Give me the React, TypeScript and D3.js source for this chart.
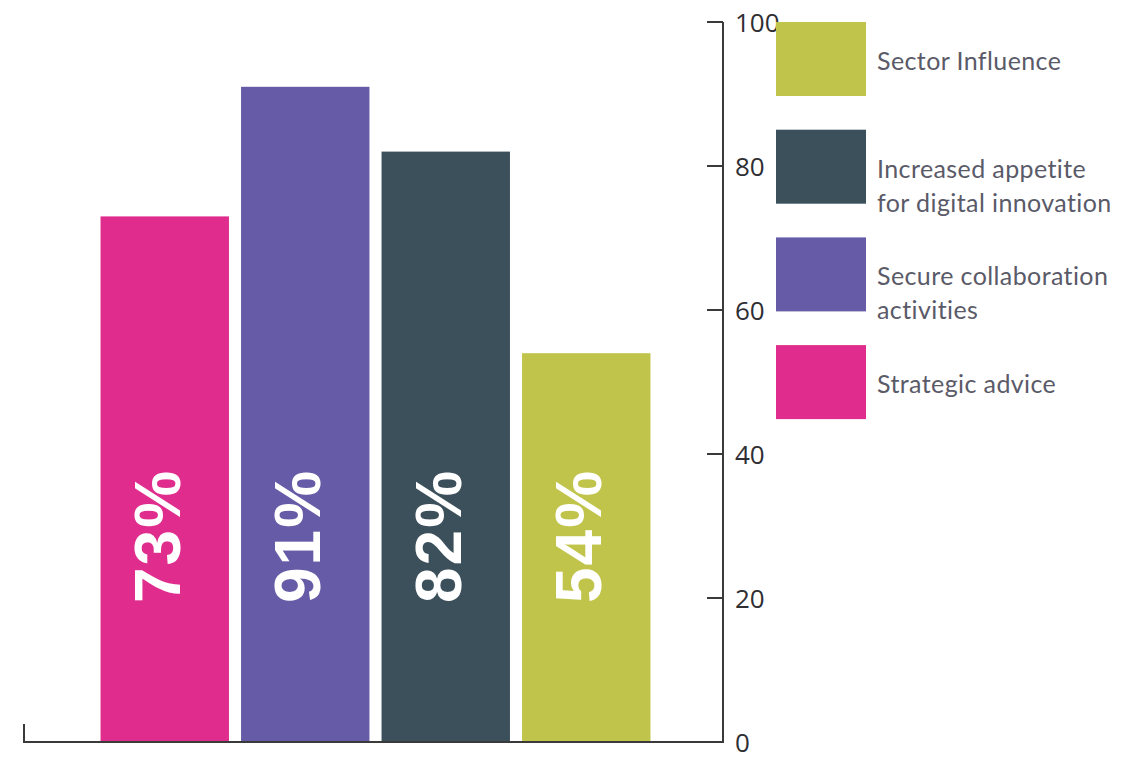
import React from "react";
import * as d3 from "d3";

const categories = ["Strategic advice", "Secure collaboration activities", "Increased appetite for digital innovation", "Sector Influence"];
const values = [73, 91, 82, 54];
const colors = ["#e02d8d", "#665ba6", "#3c505c", "#c1c44a"];
const yTicks = [0, 20, 40, 60, 80, 100];
const legendItems = ["Sector Influence", "Increased appetite for digital innovation", "Secure collaboration activities", "Strategic advice"];
const legendLines = [["Sector Influence"], ["Increased appetite", "for digital innovation"], ["Secure collaboration", "activities"], ["Strategic advice"]];
const legendColors = ["#c1c44a", "#3c505c", "#665ba6", "#e02d8d"];

export default function App() {
  const W = 1135, H = 757;
  const axisX = 723;
  const y = d3.scaleLinear().domain([0, 100]).range([742, 22]);
  const x = d3.scaleBand<string>().domain(categories).range([94.5, 656.5]).paddingInner(0.086).paddingOuter(0.043);
  const labelY = 536;
  return (
    <div style={{ position: "absolute", left: 0, top: 0 }}>
      <svg width={W} height={H} style={{ display: "block", background: "#fff" }}>
        {categories.map((c, i) => (
          <rect key={c} x={x(c)} y={y(values[i])} width={x.bandwidth()} height={y(0) - y(values[i])} fill={colors[i]} />
        ))}
        {categories.map((c, i) => {
          const cx = (x(c) as number) + x.bandwidth() / 2 + 15;
          return (
            <text key={"l" + c} transform={`translate(${cx},${labelY}) rotate(-90)`} textAnchor="middle"
              fill="#fff" fontFamily="'Liberation Sans', Arial, sans-serif" fontWeight="bold" fontSize={64} letterSpacing={2}>
              {values[i]}%
            </text>
          );
        })}
        <path d={`M24,724 V742 H${axisX} V${y(100)}`} fill="none" stroke="#3a3a3a" strokeWidth={2} />
        {yTicks.map((t) => (
          <g key={t}>
            {t > 0 && <line x1={axisX - 16} x2={axisX} y1={y(t)} y2={y(t)} stroke="#3a3a3a" strokeWidth={2} />}
            <text x={735} y={y(t)} dy="0.37em" fill="#2e2e33" fontFamily="'Open Sans', sans-serif" fontSize={26}>{t}</text>
          </g>
        ))}
        {legendItems.map((name, i) => {
          const top = 22 + i * 107.7;
          return (
            <g key={name}>
              <rect x={776} y={top} width={90} height={74} fill={legendColors[i]} />
              {legendLines[i].map((ln, j) => (
                <text key={j} x={877} y={top + 37 + 11 + j * 34} fill="#5a5a68" fontFamily="Lato, sans-serif" fontSize={25} letterSpacing={0.4}>{ln}</text>
              ))}
            </g>
          );
        })}
      </svg>
    </div>
  );
}
